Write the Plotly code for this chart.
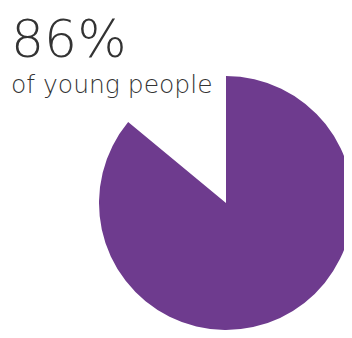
import plotly.graph_objects as go

labels = ["Young people", "Others"]
values = [86, 14]
colors = ["#6E3B8E", "rgba(0,0,0,0)"]
headline = "86%"
subtitle = "of young people"

W, H = 352, 338
# page body has an 8px offset; pie centre on screen ~ (226, 203)
cx, cy, r = 218, 195, 127
fig = go.Figure(go.Pie(
    labels=labels,
    values=values,
    sort=False,
    direction="clockwise",
    rotation=0,
    marker=dict(colors=colors, line=dict(width=0)),
    textinfo="none",
    hoverinfo="label+percent",
    showlegend=False,
    domain=dict(x=[(cx - r) / W, (cx + r) / W],
                y=[(H - cy - r) / H, (H - cy + r) / H]),
))

fig.add_annotation(text=headline, x=2 / W, y=1.0, xref="paper", yref="paper",
                   xanchor="left", yanchor="top", showarrow=False, borderpad=0,
                   font=dict(family="DejaVu Sans", size=52, color="#333333", weight=200))
fig.add_annotation(text=subtitle, x=2 / W, y=1 - 61 / H, xref="paper", yref="paper",
                   xanchor="left", yanchor="top", showarrow=False, borderpad=0,
                   font=dict(family="DejaVu Sans", size=25, color="#333333", weight=200))

fig.update_layout(width=W, height=H, margin=dict(l=0, r=0, t=0, b=0),
                  paper_bgcolor="white", plot_bgcolor="white")
fig.write_html("out.html")
